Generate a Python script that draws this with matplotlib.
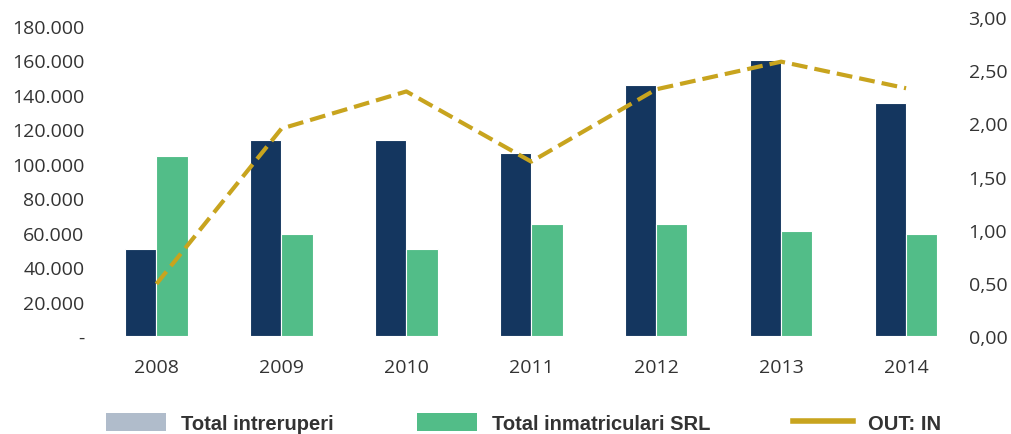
import matplotlib
matplotlib.use("Agg")
import matplotlib.pyplot as plt
import numpy as np
from matplotlib.patches import Patch
from matplotlib.lines import Line2D
from matplotlib.ticker import FuncFormatter

years = ["2008", "2009", "2010", "2011", "2012", "2013", "2014"]
total_intreruperi = [50500, 113800, 113800, 106300, 145700, 160300, 135300]
total_inmatriculari = [104500, 59200, 50500, 65000, 65000, 61000, 59200]
out_in = [0.49, 1.95, 2.30, 1.64, 2.32, 2.58, 2.33]
left_ticks = [0, 20000, 40000, 60000, 80000, 100000, 120000, 140000, 160000, 180000]
right_ticks = [0.0, 0.5, 1.0, 1.5, 2.0, 2.5, 3.0]

navy = "#14365F"
green = "#52BD88"
gold = "#C8A41E"
legend_grey = "#B0BCCB"
txt = "#333333"

plt.rcParams['font.family'] = ['Open Sans', 'DejaVu Sans']

fig = plt.figure(figsize=(10.11, 4.35), dpi=100)
ax = fig.add_axes([0.093, 0.2253, 0.865, 0.7333])
x = np.arange(len(years))
w = 0.25
ax.bar(x - w / 2, total_intreruperi, w, color=navy, edgecolor="white", linewidth=0.8)
ax.bar(x + w / 2, total_inmatriculari, w, color=green, edgecolor="white", linewidth=0.8)
ax.set_xlim(-0.5, len(years) - 0.5)
ax.set_ylim(0, 185000)
ax.set_yticks(left_ticks)
ax.yaxis.set_major_formatter(FuncFormatter(
    lambda v, p: "-" if v == 0 else f"{int(v):,}".replace(",", ".")))
ax.set_xticks(x)
ax.set_xticklabels(years)
for s in ax.spines.values():
    s.set_visible(False)
ax.tick_params(axis='both', length=0, labelsize=14, labelcolor=txt)
ax.tick_params(axis='x', pad=16)
ax.tick_params(axis='y', pad=7)

ax2 = ax.twinx()
ax2.plot(x, out_in, color=gold, linewidth=3, dashes=(3.8, 1.7),
         solid_capstyle='butt', dash_capstyle='butt')
ax2.set_ylim(0, 3.0)
ax2.set_yticks(right_ticks)
ax2.yaxis.set_major_formatter(FuncFormatter(lambda v, p: f"{v:.2f}".replace(".", ",")))
for s in ax2.spines.values():
    s.set_visible(False)
ax2.tick_params(axis='y', length=0, labelsize=14, labelcolor=txt, pad=0)

handles = [Patch(facecolor=legend_grey, edgecolor='none'),
           Patch(facecolor=green, edgecolor='none'),
           Line2D([0], [0], color=gold, linewidth=4)]
labels = ["Total intreruperi", "Total inmatriculari SRL", "OUT: IN"]
fig.legend(handles, labels, loc='center', bbox_to_anchor=(0.518, 0.025), ncol=3,
           frameon=False, prop={'family': ['Liberation Sans', 'DejaVu Sans'],
                                'weight': 'bold', 'size': 14.5},
           handlelength=3.0, handleheight=1.0, handletextpad=0.75, columnspacing=4.1,
           labelcolor=txt)

fig.savefig("out.png", dpi=100)
